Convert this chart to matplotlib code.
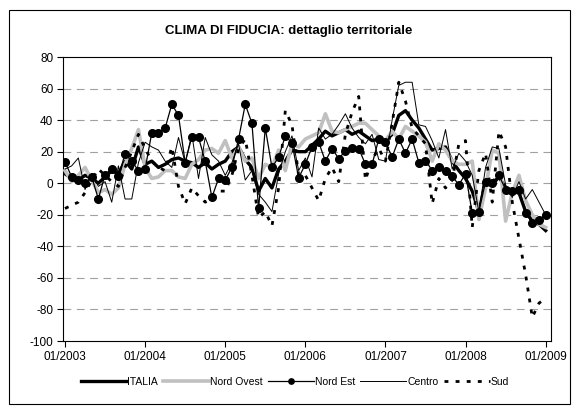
import matplotlib
matplotlib.use("Agg")
import matplotlib.pyplot as plt
from matplotlib.patches import Rectangle

plt.rcParams['font.family'] = ['Liberation Sans', 'DejaVu Sans']

# monthly data 01/2003 .. 01/2009
italia = [6, 3, 2, 5, 3, 0, 4, 8, 6, 14, 9, 23,
          12, 14, 10, 12, 15, 16, 14, 13, 10, 13, 9, 12,
          14, 20, 23, 15, 10, -5, 3, -3, 9, 14, 21, 20,
          20, 24, 28, 33, 30, 32, 34, 31, 33, 30, 27, 28,
          27, 31, 43, 46, 40, 35, 28, 21, 22, 23, 14, 8,
          3, -5, -18, 1, -1, 4, -3, -5, -6, -18, -24, -26, -30]
nord_ovest = [8, 1, 5, 10, 2, -6, -4, -7, -3, 12, 22, 34,
              10, 3, 4, 8, 8, 4, 3, 12, 15, 21, 22, 19,
              27, 16, 23, 14, 16, 3, 12, 10, 21, 8, 25, 23,
              28, 30, 32, 44, 33, 32, 34, 36, 38, 38, 34, 30,
              27, 33, 28, 36, 33, 30, 26, 14, 25, 21, 14, 12,
              12, 14, -23, -3, 21, 19, -24, -6, 5, -11, -20, -26, -28]
nord_est = [13.5, 4, 2, 0, 4, -10, 5.5, 9, 4.4, 18.6, 14, 8,
            9, 32, 32, 35, 50, 43, 13, 29.5, 29, 14, -9, 3,
            2, 10, 28, 50, 38, -16, 35, 10, 16.5, 30, 25.5, 3.4,
            12, 23, 26, 14, 22, 15.6, 20.5, 22.5, 22, 12, 12, 28,
            26, 16.5, 28, 19, 28, 13, 14.4, 8, 10, 7.6, 4.4, -1,
            6, -19, -18, 1, 0, 5, -4, -5, -4, -19, -25, -23, -20]
centro = [9, 11, 16, -4, 6, -2, 1, -12, 11, -10, -10, 13,
          26, 23, 21, 14, 10, 29, 13, 31, 3, 29, 18, 14,
          5, 13, 25, 2, 8, -7, -12, -18, 6, 20, 30, 8,
          16, 4, 35, 28, 31, 37, 44, 35, 29, 25, 31, 15,
          14, 40, 62, 64, 64, 37, 36, 27, 16, 34, 9, 19,
          14, 5, -18, 10, 23, 22, -1, -9, 1, -10, -4, -12, -20]
sud = [-16, -14, -12, -6, 2, 9, 5, 1, -2, 10, 20, 31,
       22, 14, 10, 8, 23, -2, -13, -3, -8, -12, -10, -5,
       -5, 5, 22, 28, 5, -22, -18, -27, -3, 46, 37, 5,
       5, -3, -11, 3, 10, 1, 31, 45, 55, 2, 15, 22,
       14, 38, 64, 52, 35, 30, 25, -13, 3, -3, 2, 25,
       27, -28, 8, 19, -12, 33, 23, -12, -35, -58, -85, -76, -73]

series_names = ["ITALIA", "Nord Ovest", "Nord Est", "Centro", "Sud"]
tick_labels = ["01/2003", "01/2004", "01/2005", "01/2006", "01/2007", "01/2008", "01/2009"]
y_ticks = [-100, -80, -60, -40, -20, 0, 20, 40, 60, 80]

months = list(range(len(italia)))

fig = plt.figure(figsize=(5.78, 4.08), dpi=100)
fig.patches.append(Rectangle((9 / 578, 1 - 404 / 408), 561 / 578, 394 / 408,
                             transform=fig.transFigure, fill=False,
                             edgecolor='black', linewidth=0.8))
ax = fig.add_axes([63 / 578, 1 - 341 / 408, 488 / 578, 284 / 408])

ax.plot(months, italia, color='black', lw=2.4, label=series_names[0], zorder=3)
ax.plot(months, nord_ovest, color='#c0c0c0', lw=2.6, label=series_names[1], zorder=4)
ax.plot(months, nord_est, color='black', lw=0.9, marker='o', markersize=5.5,
        label=series_names[2], zorder=5)
ax.plot(months, centro, color='black', lw=0.7, label=series_names[3], zorder=6)
ax.plot(months, sud, color='black', lw=2.0, dashes=(1.4, 2.6),
        label=series_names[4], zorder=7)

ax.set_xlim(-0.3, 72.8)
ax.set_ylim(-100, 80)
ax.set_yticks(y_ticks)
ax.set_yticklabels([str(v) for v in y_ticks], fontsize=8.5)
ax.set_xticks(range(0, 73, 12))
ax.set_xticklabels(tick_labels, fontsize=8.5)
ax.tick_params(axis='both', direction='out', length=4, width=0.8, pad=3)
for v in y_ticks[1:-1]:
    ax.axhline(v, color='#a0a0a0', lw=0.8, dashes=(7, 5), zorder=1)
for s in ax.spines.values():
    s.set_linewidth(0.8)

fig.text(0.5, 1 - 31 / 408, "CLIMA DI FIDUCIA: dettaglio territoriale",
         ha='center', va='center', fontsize=9.5, fontweight='bold')

fig.legend(loc='center', bbox_to_anchor=(0.51, 1 - 382 / 408), ncol=5,
           frameon=False, fontsize=7.5, handlelength=4.4, handletextpad=0.1,
           columnspacing=0.5, markerscale=0.7)

fig.savefig("out.png", dpi=100)
